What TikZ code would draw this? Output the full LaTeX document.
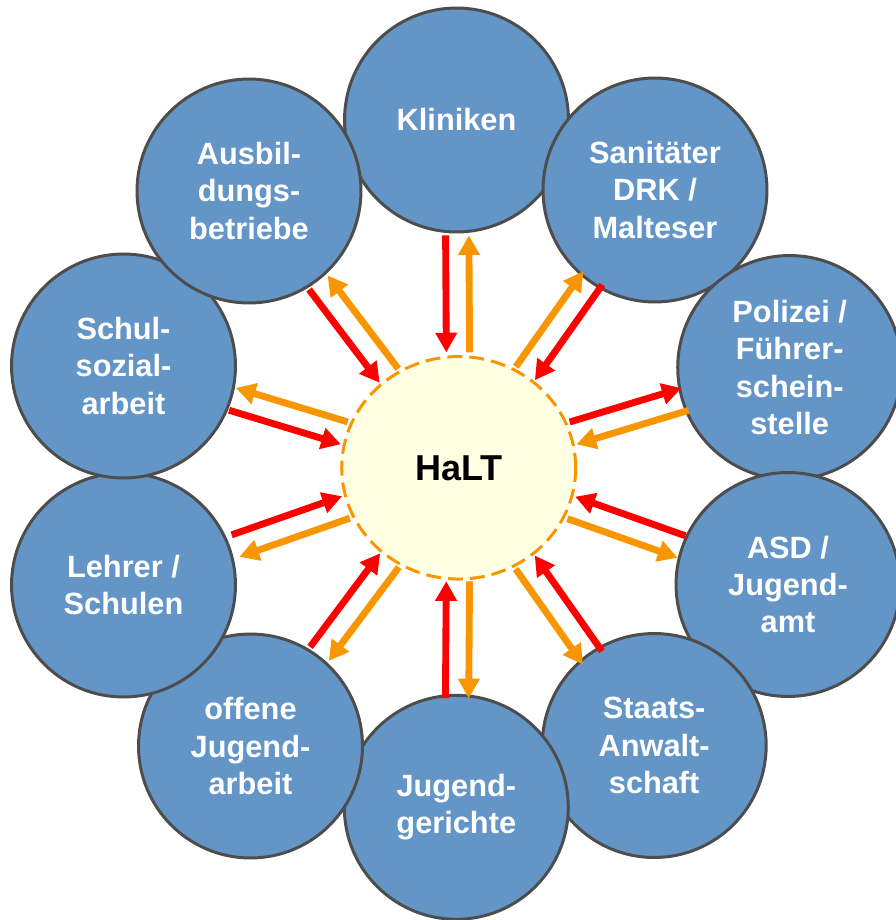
\documentclass[tikz,border=0pt]{standalone}
\usepackage{fontspec}
\setmainfont{Liberation Sans}
\usetikzlibrary{calc, arrows.meta, shapes.geometric}

\definecolor{boxblue}{RGB}{100,149,199}
\definecolor{rimgray}{RGB}{77,77,77}
\definecolor{haltorange}{RGB}{247,150,0}
\definecolor{haltfill}{RGB}{255,255,228}
\definecolor{arrred}{RGB}{255,0,0}

\begin{document}
\begin{tikzpicture}[x=0.02cm, y=0.02cm,
    partner/.style={circle, draw=rimgray, line width=1.7pt, fill=boxblue,
        minimum size=4.48cm, inner sep=0pt, align=center, text=white,
        font=\fontsize{17.5pt}{21.3pt}\selectfont\bfseries},
    hub/.style={ellipse, draw=haltorange, dash pattern=on 8.5pt off 4pt,
        line width=1.7pt, fill=haltfill, minimum width=4.68cm, minimum height=4.45cm,
        font=\fontsize{20.5pt}{24pt}\selectfont\bfseries},
    flow/.style={line width=3.9pt, -{Triangle[length=11.2pt, width=11.8pt]}}]

    \useasboundingbox (0, 0) rectangle (896, -920);

    \node [partner] (KL) at (456.5, -120) {Kliniken};
    \node [partner] (SD) at (655, -190) {Sanitäter\\DRK /\\Malteser};
    \node [partner] (PF) at (789.7, -367.5) {Polizei /\\Führer-\\schein-\\stelle};
    \node [partner] (AJ) at (788, -584.5) {ASD /\\Jugend-\\amt};
    \node [partner] (SA) at (654.2, -745.5) {Staats-\\Anwalt-\\schaft};
    \node [partner] (JG) at (456.3, -807.3) {Jugend-\\gerichte};
    \node [partner] (OJ) at (250.5, -746) {offene\\Jugend-\\arbeit};
    \node [partner] (LS) at (123.5, -585) {Lehrer /\\Schulen};
    \node [partner] (SS) at (123.5, -366) {Schul-\\sozial-\\arbeit};
    \node [partner] (AB) at (249, -191) {Ausbil-\\dungs-\\betriebe};

    \node [hub] (H) at (458.7, -467.8) {HaLT};

    % red and orange flows, in pairs
    \draw [flow, arrred] ($(H)!4.65cm!(KL)!0.233cm!90:(KL)$) -- ($(H)!2.31cm!(KL)!0.233cm!90:(KL)$);
    \draw [flow, haltorange] ($(H)!2.31cm!(KL)!0.233cm!-90:(KL)$) -- ($(H)!4.65cm!(KL)!0.233cm!-90:(KL)$);

    \draw [flow, arrred] ($(H)!4.65cm!(SD)!0.233cm!-90:(SD)$) -- ($(H)!2.31cm!(SD)!0.233cm!-90:(SD)$);
    \draw [flow, haltorange] ($(H)!2.31cm!(SD)!0.233cm!90:(SD)$) -- ($(H)!4.65cm!(SD)!0.233cm!90:(SD)$);

    \draw [flow, arrred] ($(H)!2.39cm!(PF)!0.233cm!90:(PF)$) -- ($(H)!4.73cm!(PF)!0.233cm!90:(PF)$);
    \draw [flow, haltorange] ($(H)!4.73cm!(PF)!0.233cm!-90:(PF)$) -- ($(H)!2.39cm!(PF)!0.233cm!-90:(PF)$);

    \draw [flow, arrred] ($(H)!4.73cm!(AJ)!0.233cm!90:(AJ)$) -- ($(H)!2.39cm!(AJ)!0.233cm!90:(AJ)$);
    \draw [flow, haltorange] ($(H)!2.39cm!(AJ)!0.233cm!-90:(AJ)$) -- ($(H)!4.73cm!(AJ)!0.233cm!-90:(AJ)$);

    \draw [flow, arrred] ($(H)!4.65cm!(SA)!0.233cm!90:(SA)$) -- ($(H)!2.31cm!(SA)!0.233cm!90:(SA)$);
    \draw [flow, haltorange] ($(H)!2.31cm!(SA)!0.233cm!-90:(SA)$) -- ($(H)!4.65cm!(SA)!0.233cm!-90:(SA)$);

    \draw [flow, arrred] ($(H)!4.61cm!(JG)!0.233cm!-90:(JG)$) -- ($(H)!2.27cm!(JG)!0.233cm!-90:(JG)$);
    \draw [flow, haltorange] ($(H)!2.27cm!(JG)!0.233cm!90:(JG)$) -- ($(H)!4.61cm!(JG)!0.233cm!90:(JG)$);

    \draw [flow, arrred] ($(H)!4.65cm!(OJ)!0.233cm!-90:(OJ)$) -- ($(H)!2.31cm!(OJ)!0.233cm!-90:(OJ)$);
    \draw [flow, haltorange] ($(H)!2.31cm!(OJ)!0.233cm!90:(OJ)$) -- ($(H)!4.65cm!(OJ)!0.233cm!90:(OJ)$);

    \draw [flow, arrred] ($(H)!4.73cm!(LS)!0.233cm!-90:(LS)$) -- ($(H)!2.39cm!(LS)!0.233cm!-90:(LS)$);
    \draw [flow, haltorange] ($(H)!2.39cm!(LS)!0.233cm!90:(LS)$) -- ($(H)!4.73cm!(LS)!0.233cm!90:(LS)$);

    \draw [flow, arrred] ($(H)!4.73cm!(SS)!0.233cm!90:(SS)$) -- ($(H)!2.39cm!(SS)!0.233cm!90:(SS)$);
    \draw [flow, haltorange] ($(H)!2.39cm!(SS)!0.233cm!-90:(SS)$) -- ($(H)!4.73cm!(SS)!0.233cm!-90:(SS)$);

    \draw [flow, arrred] ($(H)!4.65cm!(AB)!0.233cm!90:(AB)$) -- ($(H)!2.31cm!(AB)!0.233cm!90:(AB)$);
    \draw [flow, haltorange] ($(H)!2.31cm!(AB)!0.233cm!-90:(AB)$) -- ($(H)!4.65cm!(AB)!0.233cm!-90:(AB)$);
\end{tikzpicture}
\end{document}
